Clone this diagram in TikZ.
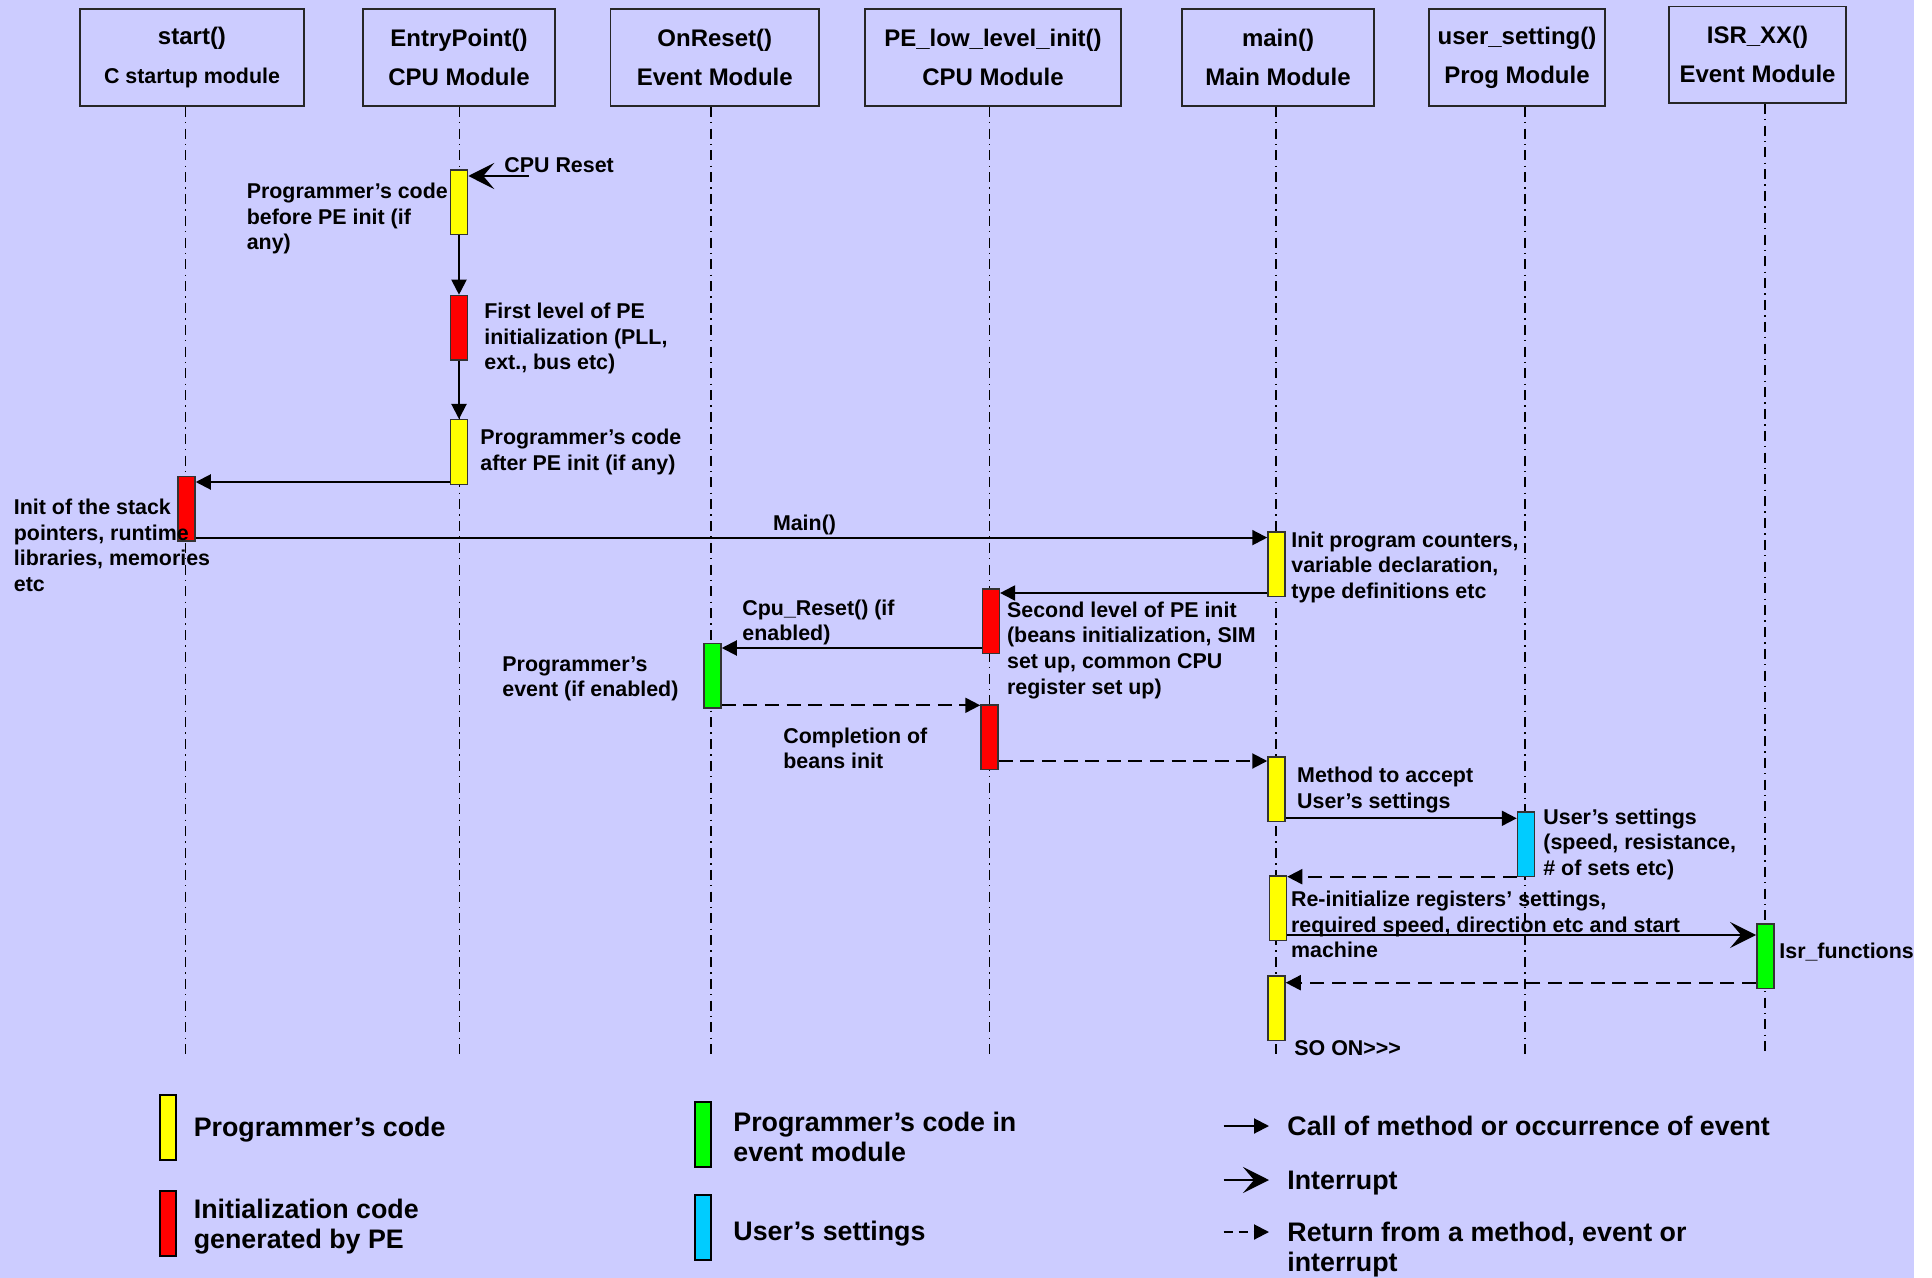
\documentclass[tikz,border=0pt]{standalone}
\usepackage{fontspec}
\setmainfont{Liberation Sans}
\usetikzlibrary{arrows.meta}
\definecolor{bg}{HTML}{CCCCFF}
\definecolor{yel}{HTML}{FFFF00}
\definecolor{rd}{HTML}{FF0000}
\definecolor{grn}{HTML}{00FF00}
\definecolor{cyn}{HTML}{00CCFF}
\begin{document}
\begin{tikzpicture}[x=0.5pt,y=-0.5pt,
  hdr/.style={draw=black!85, line width=0.8pt, inner sep=0pt, align=center, font=\bfseries\fontsize{12}{19.5}\selectfont},
  bar/.style={draw=black!80, line width=0.75pt, minimum width=8.5pt, minimum height=32.25pt, inner sep=0pt, anchor=north},
  lbar/.style={draw=black, line width=0.9pt, minimum width=8pt, minimum height=32.5pt, inner sep=0pt, anchor=north},
  lbl/.style={anchor=base west, align=left, inner sep=0pt, font=\bfseries\fontsize{10.7}{12.85}\selectfont},
  leg/.style={anchor=base west, align=left, inner sep=0pt, font=\bfseries\fontsize{13.4}{15.3}\selectfont},
  life/.style={line width=0.65pt, dash pattern=on 5pt off 2.6pt on 0.7pt off 2.6pt},
  call/.style={line width=1pt, -{Triangle[length=7.5pt,width=7.5pt]}},
  intr/.style={line width=1pt, -{Stealth[length=13pt,width=13pt,inset=5.5pt]}},
  ret/.style={call, dash pattern=on 7pt off 3.8pt},
]
\useasboundingbox (0,0) rectangle (1932,1278);
\fill[bg] (0,0) rectangle (1914,1278);
\fill[white] (1914,0) rectangle (1932,1278);

% headers
\node[hdr, minimum width=112pt, minimum height=48.5pt] (h1) at (192,57.5) {start()\\{\fontsize{10.7}{19.5}\selectfont C startup module}};
\node[hdr, minimum width=96pt, minimum height=48.5pt] (h2) at (459,57.5) {EntryPoint()\\CPU Module};
\node[hdr, minimum width=104.25pt, minimum height=48.5pt] (h3) at (714.75,57.5) {OnReset()\\Event Module};
\node[hdr, minimum width=128pt, minimum height=48.5pt] (h4) at (993,57.5) {PE\_low\_level\_init()\\CPU Module};
\node[hdr, minimum width=96.25pt, minimum height=48.5pt] (h5) at (1278,57.5) {main()\\Main Module};
\node[hdr, minimum width=88pt, minimum height=48.5pt] (h6) at (1517,57.5) {user\_setting()\\Prog Module};
\node[hdr, minimum width=88.5pt, minimum height=48.25pt] (h7) at (1757.5,54.75) {ISR\_XX()\\Event Module};

% lifelines
\coordinate (e1) at (185.4,1055);
\coordinate (e2) at (459.6,1055);
\coordinate (e3) at (711,1055);
\coordinate (e4) at (989.4,1055);
\coordinate (e5) at (1276,1055);
\coordinate (e6) at (1525,1055);
\coordinate (e7) at (1765,1055);
\draw[life] (h1.south -| e1) -- (e1);
\draw[life] (h2.south -| e2) -- (e2);
\draw[life] (h3.south -| e3) -- (e3);
\draw[life] (h4.south -| e4) -- (e4);
\draw[life] (h5.south -| e5) -- (e5);
\draw[life] (h6.south -| e6) -- (e6);
\draw[life] (h7.south -| e7) -- (e7);

% activation bars
\node[bar, fill=yel] (b1) at (459,169.4) {};
\node[bar, fill=rd]  (b2) at (459,294.7) {};
\node[bar, fill=yel] (b3) at (459,419) {};
\node[bar, fill=rd]  (b4) at (186.5,475.5) {};
\node[bar, fill=yel] (b5) at (1276.5,531.4) {};
\node[bar, fill=rd]  (b6) at (990.8,588.3) {};
\node[bar, fill=grn] (b7) at (712.5,642.7) {};
\node[bar, fill=rd]  (b8) at (989.5,704.3) {};
\node[bar, fill=yel] (b9) at (1276.5,756) {};
\node[bar, fill=cyn] (b10) at (1526,811) {};
\node[bar, fill=yel] (b11) at (1278,875) {};
\node[bar, fill=grn] (b12) at (1765.3,923) {};
\node[bar, fill=yel] (b13) at (1276.5,975) {};

% message rows
\coordinate (cpuR) at (528.6,176);
\coordinate (rd) at (0,482);
\coordinate (re) at (0,537.6);
\coordinate (rf) at (0,593);
\coordinate (rg) at (0,648);
\coordinate (rh) at (0,705.3);
\coordinate (ri) at (0,761);
\coordinate (rj) at (0,818.3);
\coordinate (rk) at (0,876.7);
\coordinate (rl) at (0,935);
\coordinate (rm) at (0,982.7);

\draw[intr] (cpuR) -- (b1.east |- cpuR);
\draw[call] (b1.south) -- (b2.north);
\draw[call] (b2.south) -- (b3.north);
\draw[call] (b3.west |- rd) -- (b4.east |- rd);
\draw[call] (b4.east |- re) -- (b5.west |- re);
\draw[call] (b5.west |- rf) -- (b6.east |- rf);
\draw[call] (b6.west |- rg) -- (b7.east |- rg);
\draw[ret] (b7.east |- rh) -- (b8.west |- rh);
\draw[ret] (b8.east |- ri) -- (b9.west |- ri);
\draw[call] (b9.east |- rj) -- (b10.west |- rj);
\draw[ret] (b10.west |- rk) -- (b11.east |- rk);
\draw[intr] (b11.east |- rl) -- (b12.west |- rl);
\draw[ret] (b12.west |- rm) -- (b13.east |- rm);

% labels (base = baseline of last line)
\node[lbl] (l16) at (504,173) {CPU Reset};
\node[lbl] (l1) at (246.4,249.9) {Programmer’s code\\before PE init (if\\any)};
\node[lbl] (l2) at (484,369.9) {First level of PE\\initialization (PLL,\\ext., bus etc)};
\node[lbl] (l3) at (480,470.2) {Programmer’s code\\after PE init (if any)};
\node[lbl] (l4) at (13.5,591.6) {Init of the stack\\pointers, runtime\\libraries, memories\\etc};
\node[lbl] (l5) at (772.6,530) {Main()};
\node[lbl] (l6) at (1291,598.4) {Init program counters,\\variable declaration,\\type definitions etc};
\node[lbl] (l7) at (1006.7,694.1) {Second level of PE init\\(beans initialization, SIM\\set up, common CPU\\register set up)};
\node[lbl] (l8) at (742,640.7) {Cpu\_Reset() (if\\enabled)};
\node[lbl] (l9) at (502,696.7) {Programmer’s\\event (if enabled)};
\node[lbl] (l10) at (783,768.7) {Completion of\\beans init};
\node[lbl] (l11) at (1296.8,808.2) {Method to accept\\User’s settings};
\node[lbl] (l12) at (1543,875.4) {User’s settings\\(speed, resistance,\\\# of sets etc)};
\node[lbl] (l13) at (1290.7,957.9) {Re-initialize registers’ settings,\\required speed, direction etc and start\\machine};
\node[lbl] (l14) at (1779,958) {Isr\_functions};
\node[lbl] (l15) at (1294,1055) {SO ON>{}>{}>};

% legend
\node[lbar, fill=yel] (ly) at (168.2,1094.3) {};
\node[lbar, fill=rd]  (lr) at (168.2,1190.3) {};
\node[lbar, fill=grn] (lg) at (703,1100.7) {};
\node[lbar, fill=cyn] (lc) at (703,1193.7) {};
\node[leg] (lt1) at (193.4,1136) {Programmer’s code};
\node[leg] (lt2) at (193.4,1248.6) {Initialization code\\generated by PE};
\node[leg] (lt3) at (733,1161.6) {Programmer’s code in\\event module};
\node[leg] (lt4) at (733,1240) {User’s settings};
\coordinate (la1) at (1223.5,1126);
\coordinate (lb1) at (1269,1126);
\coordinate (la2) at (1223.5,1180);
\coordinate (lb2) at (1269,1180);
\coordinate (la3) at (1223.5,1232);
\coordinate (lb3) at (1269,1232);
\draw[call] (la1) -- (lb1);
\draw[intr] (la2) -- (lb2);
\draw[call, dash pattern=on 4.5pt off 3pt] (la3) -- (lb3);
\node[leg] (lt5) at (1287,1135.5) {Call of method or occurrence of event};
\node[leg] (lt6) at (1287,1189.5) {Interrupt};
\node[leg] (lt7) at (1287,1271.6) {Return from a method, event or\\interrupt};
\end{tikzpicture}
\end{document}
